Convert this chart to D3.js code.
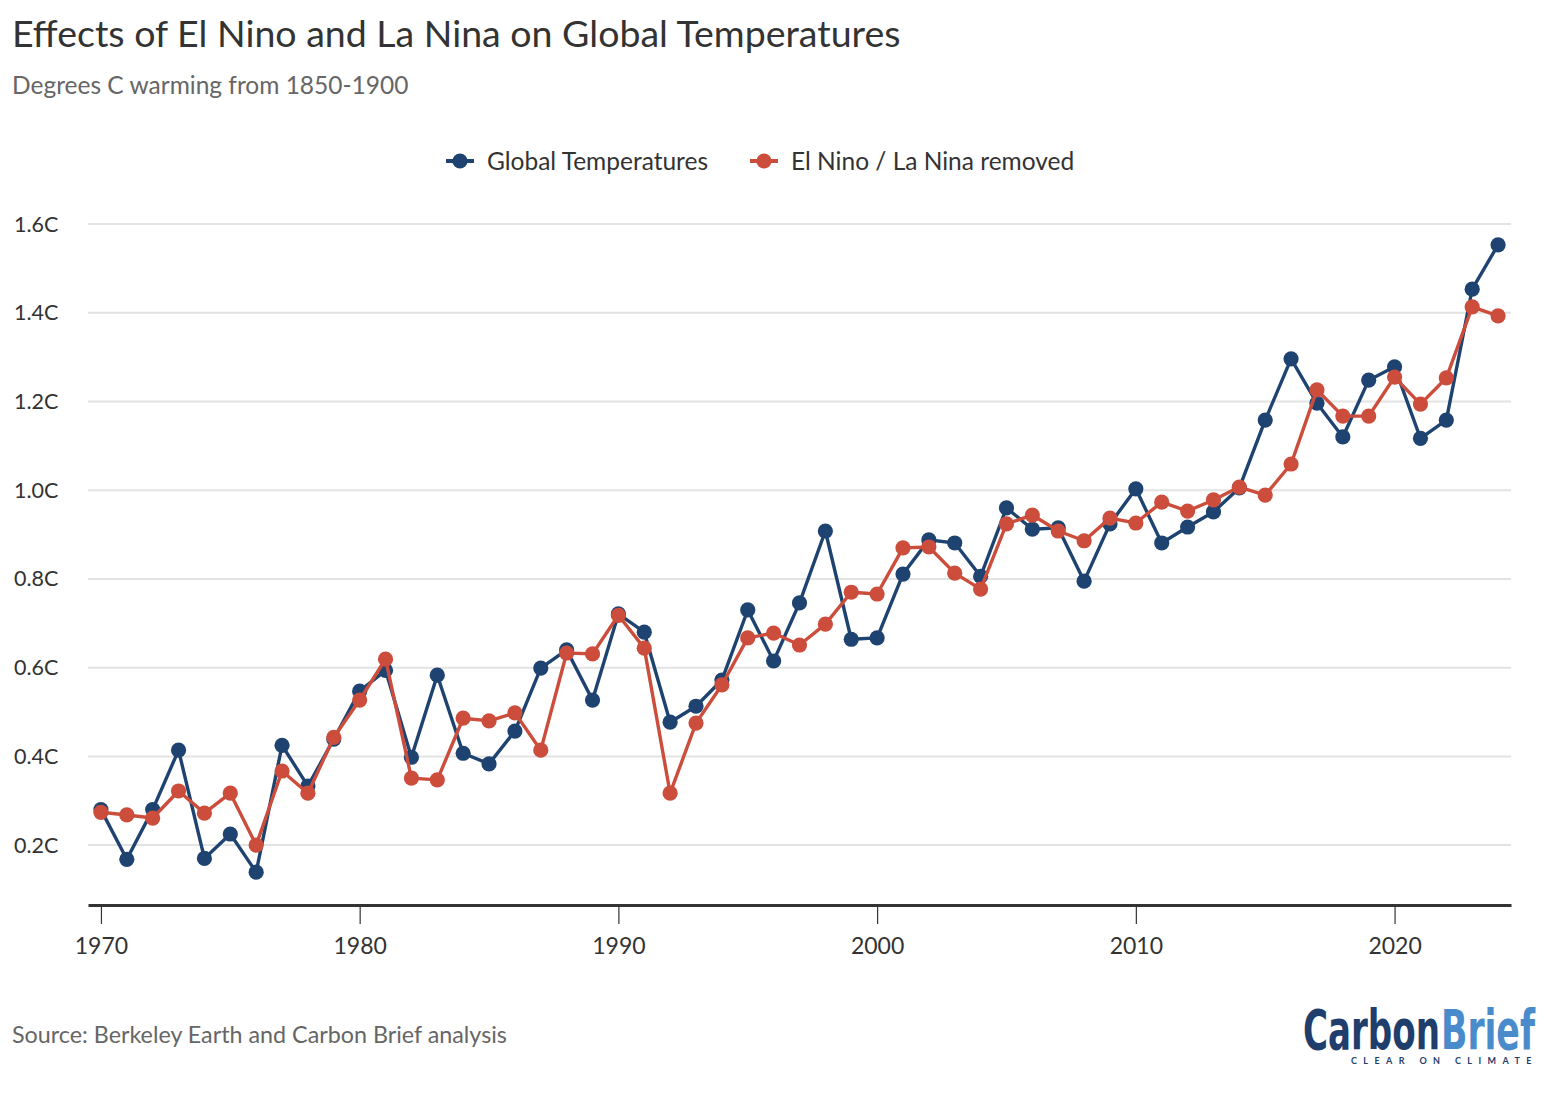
<!DOCTYPE html>
<html><head><meta charset="utf-8">
<script src="https://cdn.jsdelivr.net/npm/d3@7"></script>
<style>
body{margin:0;background:#fff;}
svg{display:block;font-family:Lato,"Open Sans",sans-serif;}
</style></head>
<body>
<script>
const years = d3.range(1970, 2025);
const globalTemps = [0.28,0.168,0.28,0.414,0.17,0.225,0.139,0.425,0.333,0.439,
0.547,0.594,0.398,0.583,0.407,0.383,0.457,0.599,0.64,0.527,
0.721,0.68,0.477,0.513,0.572,0.73,0.615,0.746,0.908,0.664,
0.667,0.811,0.888,0.881,0.806,0.96,0.912,0.915,0.795,0.924,
1.003,0.881,0.917,0.951,1.005,1.158,1.296,1.196,1.12,1.248,
1.278,1.117,1.158,1.453,1.553];
const ensoRemoved = [0.274,0.268,0.261,0.322,0.272,0.317,0.2,0.367,0.317,0.443,
0.527,0.619,0.351,0.347,0.486,0.48,0.498,0.414,0.633,0.631,
0.718,0.644,0.317,0.475,0.561,0.667,0.678,0.651,0.698,0.77,
0.766,0.87,0.872,0.813,0.777,0.924,0.944,0.908,0.886,0.937,
0.926,0.973,0.953,0.978,1.007,0.989,1.059,1.226,1.167,1.167,
1.255,1.194,1.253,1.413,1.393];
const yTicks = [0.2,0.4,0.6,0.8,1.0,1.2,1.4,1.6];
const xTicks = [1970,1980,1990,2000,2010,2020];
const seriesNames = ["Global Temperatures","El Nino / La Nina removed"];
const colors = ["#1f4370","#cc4d3c"];

const W=1556,H=1094;
const svg=d3.select("body").append("svg").attr("width",W).attr("height",H);

const x=d3.scaleLinear().domain([1969.5,2024.5]).range([88,1511]);
const y=d3.scaleLinear().domain([0.065,1.6]).range([905,224]);

// title
svg.append("text").attr("x",12).attr("y",47).attr("font-size",37.5).attr("fill","#333").text("Effects of El Nino and La Nina on Global Temperatures");
svg.append("text").attr("x",12).attr("y",94).attr("font-size",24.5).attr("fill","#666").text("Degrees C warming from 1850-1900");

// gridlines
const g=svg.append("g");
g.selectAll("line.grid").data(yTicks).join("line").attr("class","grid")
 .attr("x1",88).attr("x2",1511).attr("y1",d=>y(d)).attr("y2",d=>y(d))
 .attr("stroke","#e3e3e3").attr("stroke-width",2);
g.selectAll("text.ylab").data(yTicks).join("text").attr("class","ylab")
 .attr("x",14).attr("y",d=>y(d)).attr("dy","0.35em").attr("font-size",21.5).attr("fill","#333")
 .text(d=>d.toFixed(1)+"C");

// x axis
const xAxis=svg.append("g").attr("transform","translate(0,905)")
 .call(d3.axisBottom(x).tickValues(xTicks).tickFormat(d3.format("d")).tickSize(19).tickSizeOuter(0).tickPadding(14));
xAxis.select(".domain").attr("stroke","#333").attr("stroke-width",3);
xAxis.selectAll(".tick line").attr("stroke","#333").attr("stroke-width",1.2);
xAxis.selectAll(".tick text").attr("font-size",23).attr("fill","#333").attr("font-family","Lato,sans-serif");

// lines
const series=[globalTemps,ensoRemoved];
const line=d3.line().x((d,i)=>x(years[i])).y(d=>y(d));
series.forEach((s,k)=>{
  svg.append("path").datum(s).attr("d",line).attr("fill","none")
   .attr("stroke",colors[k]).attr("stroke-width",3.4).attr("stroke-linejoin","round");
  svg.append("g").selectAll("circle").data(s).join("circle")
   .attr("cx",(d,i)=>x(years[i])).attr("cy",d=>y(d)).attr("r",7.6).attr("fill",colors[k]);
});

// legend
const legX=[446,750];
seriesNames.forEach((n,k)=>{
  const lg=svg.append("g").attr("transform",`translate(${legX[k]},161)`);
  lg.append("line").attr("x1",0).attr("x2",28).attr("stroke",colors[k]).attr("stroke-width",4);
  lg.append("circle").attr("cx",14).attr("r",7.6).attr("fill",colors[k]);
  lg.append("text").attr("x",41).attr("dy","0.35em").attr("font-size",24.5).attr("fill","#333").text(n);
});

// source
svg.append("text").attr("x",12).attr("y",1043).attr("font-size",23.3).attr("fill","#666").text("Source: Berkeley Earth and Carbon Brief analysis");

// logo (scaled horizontally to fit)
function fitText(txt,x0,base,size,width,color,weight,family){
  const t=svg.append("text").attr("x",0).attr("y",0).attr("font-size",size).attr("font-weight",weight)
    .attr("font-family",family).attr("fill",color).text(txt);
  const w=t.node().getComputedTextLength();
  t.attr("transform",`translate(${x0},${base}) scale(${width/w},1)`);
  return t;
}
const logoFam="'Liberation Sans Narrow','DejaVu Sans Condensed',sans-serif";
fitText("Carbon",1303,1049,56,137,"#1f3e6b","bold",logoFam);
fitText("Brief",1441,1049,56,94,"#4a8bcb","bold",logoFam);
svg.append("text").attr("x",1351).attr("y",1064).attr("font-size",9).attr("font-weight","bold").attr("fill","#1f3e6b")
 .attr("letter-spacing","6.4").text("CLEAR ON CLIMATE");
</script>
</body></html>
